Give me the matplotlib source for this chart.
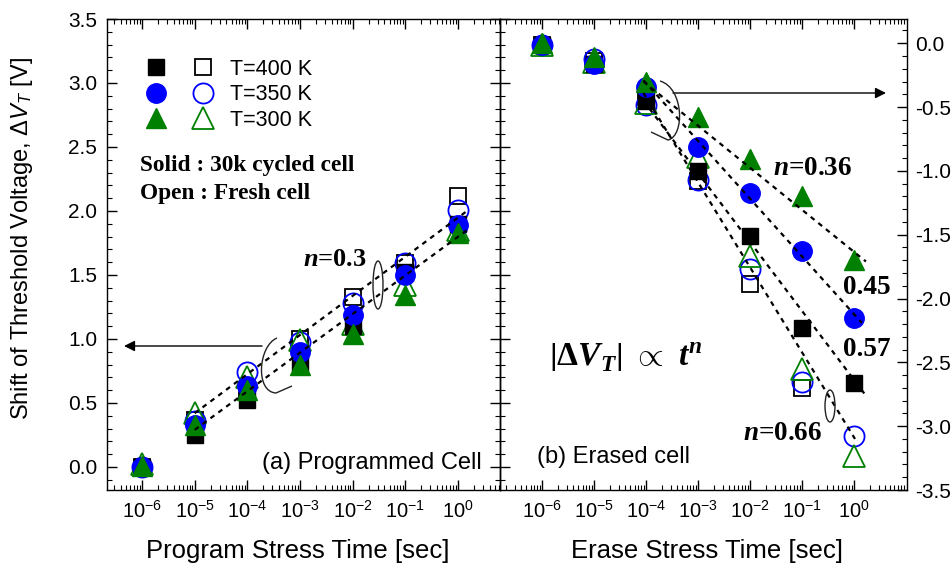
import matplotlib
matplotlib.use('Agg')
import matplotlib.pyplot as plt
import numpy as np
from matplotlib.ticker import (FixedLocator, LogLocator, MultipleLocator,
                               NullFormatter, FuncFormatter, FormatStrFormatter)
from matplotlib.patches import Ellipse, PathPatch, FancyArrowPatch
from matplotlib.path import Path
from matplotlib.legend_handler import HandlerTuple

plt.rcParams['font.family'] = ['Liberation Sans', 'DejaVu Sans']
plt.rcParams['mathtext.fontset'] = 'custom'
plt.rcParams['mathtext.rm'] = 'Liberation Sans'
plt.rcParams['mathtext.it'] = 'Liberation Sans:italic'
plt.rcParams['mathtext.bf'] = 'Liberation Serif:bold'
plt.rcParams['mathtext.bfit'] = 'Liberation Serif:italic:bold'
plt.rcParams['mathtext.sf'] = 'Liberation Sans'
plt.rcParams['axes.unicode_minus'] = False

# ---------------- data ----------------
time = [1e-6, 1e-5, 1e-4, 1e-3, 1e-2, 1e-1, 1e0]

# (a) programmed cell, left axis [V]
prog_400_cycled = [0.00, 0.25, 0.52, 0.81, 1.10, 1.52, 1.90]
prog_400_fresh = [0.00, 0.37, 0.60, 1.00, 1.33, 1.59, 2.12]
prog_350_cycled = [0.00, 0.33, 0.63, 0.90, 1.19, 1.50, 1.89]
prog_350_fresh = [0.00, 0.36, 0.74, 0.98, 1.28, 1.59, 2.01]
prog_300_cycled = [0.01, 0.33, 0.60, 0.80, 1.04, 1.34, 1.83]
prog_300_fresh = [0.02, 0.42, 0.70, 0.99, 1.12, 1.42, 1.85]

# (b) erased cell, right axis [V]
erase_400_cycled = [-0.01, -0.16, -0.45, -1.00, -1.51, -2.23, -2.66]
erase_400_fresh = [-0.01, -0.14, -0.42, -1.08, -1.89, -2.70, np.nan]
erase_350_cycled = [-0.01, -0.16, -0.34, -0.81, -1.17, -1.63, -2.15]
erase_350_fresh = [-0.01, -0.12, -0.48, -1.07, -1.77, -2.65, -3.08]
erase_300_cycled = [0.00, -0.11, -0.30, -0.58, -0.91, -1.20, -1.70]
erase_300_fresh = [-0.01, -0.15, -0.47, -0.89, -1.67, -2.55, -3.23]

# guide (fit) lines
prog_fit_t = [1e-5, 10 ** 0.17]
prog_fit_upper = [0.42, 2.00]
prog_fit_lower = [0.29, 1.85]

erase_fit_t036 = [10 ** -4.05, 10 ** 0.23]
erase_fit_v036 = [-0.30, -1.71]
erase_fit_t045 = [10 ** -4.05, 10 ** 0.15]
erase_fit_v045 = [-0.29, -2.19]
erase_fit_t057 = [10 ** -4.05, 10 ** 0.21]
erase_fit_v057 = [-0.45, -2.75]
erase_fit_t066 = [10 ** -4.05, 10 ** 0.02]
erase_fit_v066 = [-0.39, -3.10]

legend_labels = ['T=400 K', 'T=350 K', 'T=300 K']

# ---------------- figure ----------------
W, H = 953, 571
fig = plt.figure(figsize=(W / 100, H / 100), dpi=100)


def P(x, y):
    return (x / W, 1 - y / H)


axL = fig.add_axes([107 / W, 1 - 490 / H, 393 / W, 471 / H])
axR = fig.add_axes([500 / W, 1 - 490 / H, 407 / W, 471 / H])
axR.patch.set_alpha(0)

BLACK, BLUE, GREEN = '#000000', '#0000ff', '#008000'
styles = [('s', BLACK, 11), ('o', BLUE, 14), ('^', GREEN, 15)]

xfmt = FuncFormatter(lambda v, p: r'$\mathregular{10^{%d}}$' % int(round(np.log10(v))))

for ax in (axL, axR):
    ax.set_xscale('log')
    ax.xaxis.set_major_locator(FixedLocator(time))
    ax.xaxis.set_major_formatter(xfmt)
    ax.xaxis.set_minor_locator(LogLocator(base=10, subs=np.arange(2, 10), numticks=30))
    ax.xaxis.set_minor_formatter(NullFormatter())
    ax.tick_params(axis='x', which='both', direction='in', top=True, bottom=True,
                   labelsize=14.5, pad=7)
    ax.tick_params(which='major', length=7, width=1)
    ax.tick_params(which='minor', length=3.5, width=0.8)
    for s in ax.spines.values():
        s.set_linewidth(1.0)

axL.set_xlim(10 ** -6.665, 10 ** 0.797)
axR.set_xlim(10 ** -6.81, 10 ** 1.02)

axL.set_ylim(-0.18, 3.5)
axL.yaxis.set_major_locator(MultipleLocator(0.5))
axL.yaxis.set_minor_locator(MultipleLocator(0.1))
axL.yaxis.set_major_formatter(FormatStrFormatter('%.1f'))
axL.tick_params(axis='y', which='both', direction='in', left=True, right=True,
                labelsize=15, pad=7)

sec = axL.secondary_yaxis('right')
sec.yaxis.set_major_locator(MultipleLocator(0.5))
sec.yaxis.set_minor_locator(MultipleLocator(0.1))
sec.tick_params(axis='y', which='both', direction='out', labelright=False)
sec.tick_params(which='major', length=7, width=1)
sec.tick_params(which='minor', length=3.5, width=0.8)

axR.set_ylim(-3.5, 0.19)
axR.yaxis.tick_right()
axR.yaxis.set_major_locator(MultipleLocator(0.5))
axR.yaxis.set_minor_locator(MultipleLocator(0.1))
axR.yaxis.set_major_formatter(FormatStrFormatter('%.1f'))
axR.tick_params(axis='y', which='both', direction='in', left=False, right=True,
                labelleft=False, labelright=True, labelsize=15, pad=6)

# ---------------- data points ----------------
prog_sets = [(prog_400_cycled, prog_400_fresh), (prog_350_cycled, prog_350_fresh),
             (prog_300_cycled, prog_300_fresh)]
erase_sets = [(erase_400_cycled, erase_400_fresh), (erase_350_cycled, erase_350_fresh),
              (erase_300_cycled, erase_300_fresh)]

handles = []
for ax, sets in ((axL, prog_sets), (axR, erase_sets)):
    opens, fills = [], []
    for (m, c, ms), (cyc, fresh) in zip(styles, sets):
        o, = ax.plot(time, fresh, ls='none', marker=m, ms=ms + 0.5, mfc='none', mec=c,
                     mew=1.3, zorder=3, clip_on=False)
        opens.append(o)
    for (m, c, ms), (cyc, fresh) in zip(styles, sets):
        f, = ax.plot(time, cyc, ls='none', marker=m, ms=ms, mfc=c, mec=c, zorder=4,
                     clip_on=False)
        fills.append(f)
    if ax is axL:
        handles = list(zip(fills, opens))

dash = dict(color='black', lw=1.6, ls=(0, (2.2, 2.2)), zorder=5)
axL.plot(prog_fit_t, prog_fit_upper, **dash)
axL.plot(prog_fit_t, prog_fit_lower, **dash)
axR.plot(erase_fit_t036, erase_fit_v036, **dash)
axR.plot(erase_fit_t045, erase_fit_v045, **dash)
axR.plot(erase_fit_t057, erase_fit_v057, **dash)
axR.plot(erase_fit_t066, erase_fit_v066, **dash)

# ---------------- legend ----------------
leg = axL.legend(handles, legend_labels, handler_map={tuple: HandlerTuple(ndivide=None, pad=1.25)},
                 loc='upper left', bbox_to_anchor=((146 - 107) / 393, (490 - 59) / 471),
                 frameon=False, fontsize=15.5, handlelength=3.1, handletextpad=0.8,
                 labelspacing=0.2, borderpad=0, borderaxespad=0)

# ---------------- labels ----------------
axL.set_ylabel(r'Shift of Threshold Voltage, $\mathit{\Delta V}_{\mathit{T}}$ [V]', fontsize=17)
axL.yaxis.set_label_coords((22 - 107) / 393, (490 - 238) / 471)
axL.yaxis.label.set_va('center')
axL.set_xlabel('Program Stress Time [sec]', fontsize=18.5)
axL.xaxis.set_label_coords((298 - 107) / 393, (490 - 551) / 471)
axL.xaxis.label.set_va('center')
axR.set_xlabel('Erase Stress Time [sec]', fontsize=18.5)
axR.xaxis.set_label_coords((707 - 500) / 407, (490 - 551) / 471)
axR.xaxis.label.set_va('center')

serif_b = dict(family='Liberation Serif', weight='bold')
fig.text(*P(140, 166), 'Solid : 30k cycled cell', fontsize=16.8, va='center', **serif_b)
fig.text(*P(140, 194), 'Open : Fresh cell', fontsize=16.8, va='center', **serif_b)
fig.text(*P(303, 260), r'$\mathbfit{n}$=0.3', fontsize=19, va='center', **serif_b)
fig.text(*P(482, 463), '(a) Programmed Cell', fontsize=17, va='center', ha='right')
fig.text(*P(537, 457), '(b) Erased cell', fontsize=17, va='center', ha='left')
fig.text(*P(773, 168), r'$\mathbfit{n}$=0.36', fontsize=19.5, va='center', **serif_b)
fig.text(*P(843, 287), '0.45', fontsize=19.5, va='center', **serif_b)
fig.text(*P(843, 350), '0.57', fontsize=19.5, va='center', **serif_b)
fig.text(*P(743, 433), r'$\mathbfit{n}$=0.66', fontsize=19.5, va='center', **serif_b)
fig.text(*P(549, 357), r'$\left|\mathbf{\Delta}\mathbfit{V}_{\mathbfit{T}}\right|\ \propto\ \mathbfit{t}^{\mathbfit{n}}$',
         fontsize=24, va='center', ha='left')

# ---------------- annotation shapes ----------------
arrow = dict(arrowstyle='-|>', lw=1.0, color='black', mutation_scale=16, shrinkA=0, shrinkB=0)
fig.add_artist(FancyArrowPatch(P(262, 346), P(124, 346), transform=fig.transFigure, **arrow))
fig.add_artist(FancyArrowPatch(P(673, 93), P(886, 93), transform=fig.transFigure, **arrow))

bracketL = Path([P(277, 338), P(258, 346), P(255, 392), P(276, 393), P(292, 386)],
                [Path.MOVETO, Path.CURVE4, Path.CURVE4, Path.CURVE4, Path.LINETO])
bracketR = Path([P(660, 81), P(684, 88), P(685, 136), P(668, 140), P(651, 132)],
                [Path.MOVETO, Path.CURVE4, Path.CURVE4, Path.CURVE4, Path.LINETO])
for bp in (bracketL, bracketR):
    fig.add_artist(PathPatch(bp, fc='none', ec='#222222', lw=1.0, transform=fig.transFigure))

fig.add_artist(Ellipse(P(378, 285), 10 / W, 48 / H, fc='none', ec='#222222', lw=1.0,
                       transform=fig.transFigure))
fig.add_artist(Ellipse(P(830, 406), 10 / W, 32 / H, fc='none', ec='#222222', lw=1.0,
                       transform=fig.transFigure))

fig.savefig('out.png', dpi=100)
